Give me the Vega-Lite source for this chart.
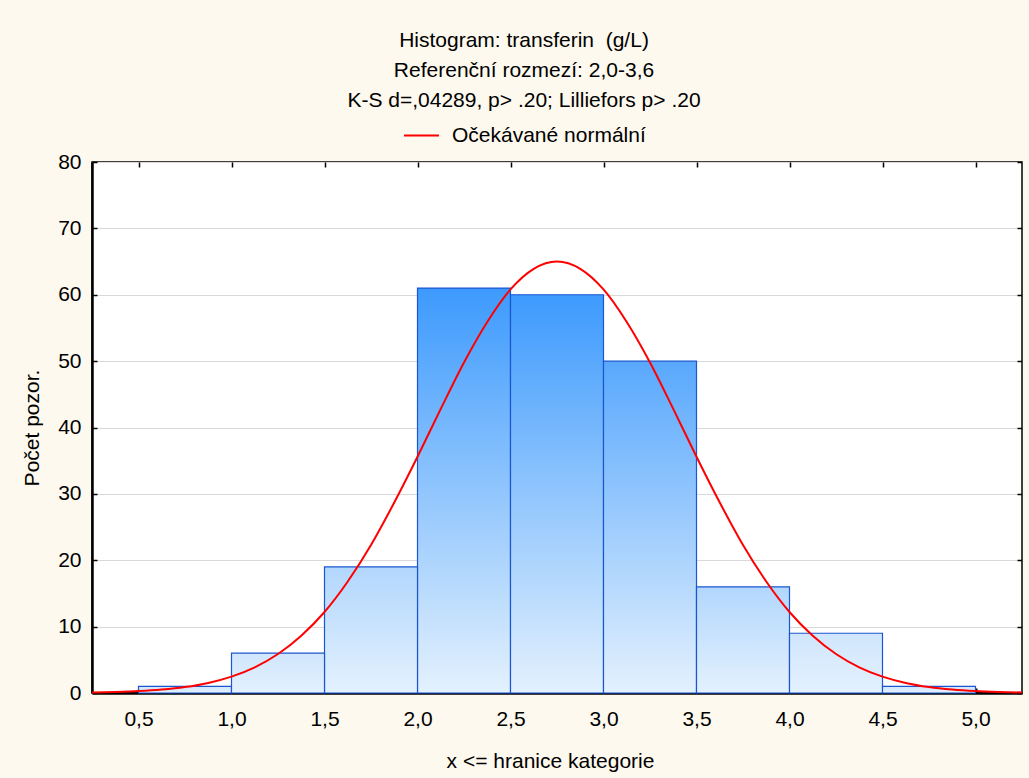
{
  "$schema": "https://vega.github.io/schema/vega-lite/v6.json",
  "width": 930,
  "height": 531,
  "autosize": {"type": "none"},
  "padding": {"left": 92, "top": 162, "right": 7, "bottom": 85},
  "background": "#fdf9ee",
  "config": {
    "font": "Liberation Sans",
    "view": {"fill": "white", "stroke": "black", "strokeWidth": 1.5},
    "axis": {"labelFont": "Liberation Sans", "titleFont": "Liberation Sans", "labelColor": "black", "titleColor": "black", "labelFontSize": 21, "titleFontSize": 21, "titleFontWeight": "normal"}
  },
  "title": {
    "text": ["Histogram: transferin \u00a0(g/L)", "Referenční rozmezí: 2,0-3,6", "K-S d=,04289, p> .20; Lilliefors p> .20"],
    "font": "Liberation Sans",
    "fontSize": 21,
    "fontWeight": "normal",
    "color": "black",
    "lineHeight": 30,
    "anchor": "middle",
    "frame": "group",
    "dx": -33,
    "offset": 6
  },
  "datasets": {
    "bins": [
      {"bin_start": 0.5, "bin_end": 1.0, "count": 1},
      {"bin_start": 1.0, "bin_end": 1.5, "count": 6},
      {"bin_start": 1.5, "bin_end": 2.0, "count": 19},
      {"bin_start": 2.0, "bin_end": 2.5, "count": 61},
      {"bin_start": 2.5, "bin_end": 3.0, "count": 60},
      {"bin_start": 3.0, "bin_end": 3.5, "count": 50},
      {"bin_start": 3.5, "bin_end": 4.0, "count": 16},
      {"bin_start": 4.0, "bin_end": 4.5, "count": 9},
      {"bin_start": 4.5, "bin_end": 5.0, "count": 1}
    ],
    "curve": [
      {"x": 0.25, "y": 0.08, "series": "Očekávané normální"},
      {"x": 0.375, "y": 0.16, "series": "Očekávané normální"},
      {"x": 0.5, "y": 0.29, "series": "Očekávané normální"},
      {"x": 0.625, "y": 0.52, "series": "Očekávané normální"},
      {"x": 0.75, "y": 0.9, "series": "Očekávané normální"},
      {"x": 0.875, "y": 1.52, "series": "Očekávané normální"},
      {"x": 1.0, "y": 2.47, "series": "Očekávané normální"},
      {"x": 1.125, "y": 3.87, "series": "Očekávané normální"},
      {"x": 1.25, "y": 5.87, "series": "Očekávané normální"},
      {"x": 1.375, "y": 8.62, "series": "Očekávané normální"},
      {"x": 1.5, "y": 12.2, "series": "Očekávané normální"},
      {"x": 1.625, "y": 16.8, "series": "Očekávané normální"},
      {"x": 1.75, "y": 22.3, "series": "Očekávané normální"},
      {"x": 1.875, "y": 28.7, "series": "Očekávané normální"},
      {"x": 2.0, "y": 35.6, "series": "Očekávané normální"},
      {"x": 2.125, "y": 42.8, "series": "Očekávané normální"},
      {"x": 2.25, "y": 49.8, "series": "Očekávané normální"},
      {"x": 2.375, "y": 55.9, "series": "Očekávané normální"},
      {"x": 2.5, "y": 60.8, "series": "Očekávané normální"},
      {"x": 2.625, "y": 63.9, "series": "Očekávané normální"},
      {"x": 2.75, "y": 65.0, "series": "Očekávané normální"},
      {"x": 2.875, "y": 63.9, "series": "Očekávané normální"},
      {"x": 3.0, "y": 60.8, "series": "Očekávané normální"},
      {"x": 3.125, "y": 55.9, "series": "Očekávané normální"},
      {"x": 3.25, "y": 49.8, "series": "Očekávané normální"},
      {"x": 3.375, "y": 42.8, "series": "Očekávané normální"},
      {"x": 3.5, "y": 35.6, "series": "Očekávané normální"},
      {"x": 3.625, "y": 28.7, "series": "Očekávané normální"},
      {"x": 3.75, "y": 22.3, "series": "Očekávané normální"},
      {"x": 3.875, "y": 16.8, "series": "Očekávané normální"},
      {"x": 4.0, "y": 12.2, "series": "Očekávané normální"},
      {"x": 4.125, "y": 8.62, "series": "Očekávané normální"},
      {"x": 4.25, "y": 5.87, "series": "Očekávané normální"},
      {"x": 4.375, "y": 3.87, "series": "Očekávané normální"},
      {"x": 4.5, "y": 2.47, "series": "Očekávané normální"},
      {"x": 4.625, "y": 1.52, "series": "Očekávané normální"},
      {"x": 4.75, "y": 0.9, "series": "Očekávané normální"},
      {"x": 4.875, "y": 0.52, "series": "Očekávané normální"},
      {"x": 5.0, "y": 0.29, "series": "Očekávané normální"},
      {"x": 5.125, "y": 0.16, "series": "Očekávané normální"},
      {"x": 5.25, "y": 0.08, "series": "Očekávané normální"}
    ]
  },
  "resolve": {"axis": {"x": "independent", "y": "independent"}},
  "layer": [
    {
      "data": {"name": "bins"},
      "transform": [{"filter": "datum.count >= 55"}],
      "mark": {"type": "rect", "stroke": "#1a56d0", "strokeWidth": 1.2,
        "fill": {"gradient": "linear", "x1": 0, "y1": 1, "x2": 0, "y2": 0, "stops": [{"offset": 0, "color": "#e4f1fd"}, {"offset": 1, "color": "#3d9afd"}]}},
      "encoding": {
        "x": {"field": "bin_start", "type": "quantitative",
          "scale": {"domain": [0.25, 5.25], "nice": false, "zero": false},
          "axis": {"orient": "bottom", "values": [0.5, 1, 1.5, 2, 2.5, 3, 3.5, 4, 4.5, 5],
            "labelExpr": "replace(format(datum.value, '.1f'), '.', ',')",
            "grid": false, "domainColor": "black", "domainWidth": 2.5, "tickColor": "black", "tickWidth": 2, "tickSize": -5,
            "labelPadding": 20, "labelFlush": false,
            "title": "x <= hranice kategorie", "titleX": 458, "titleY": 68, "titleAlign": "center", "titleBaseline": "middle"}},
        "x2": {"field": "bin_end"},
        "y": {"field": "count", "type": "quantitative",
          "scale": {"domain": [0, 80], "nice": false},
          "axis": {"orient": "left", "values": [0, 10, 20, 30, 40, 50, 60, 70, 80],
            "grid": true, "gridColor": "#d9d9d9", "gridWidth": 1,
            "domainColor": "black", "domainWidth": 2.5, "tickColor": "black", "tickWidth": 1.5, "tickSize": -5,
            "labelPadding": 16, "labelFlush": false,
            "title": "Počet pozor.", "titleAngle": -90, "titleX": -60, "titleY": 265.5, "titleAlign": "center", "titleBaseline": "middle"}},
        "y2": {"datum": 0}
      }
    },
    {
      "data": {"name": "bins"},
      "transform": [{"filter": "datum.count >= 40 && datum.count < 55"}],
      "mark": {"type": "rect", "stroke": "#1a56d0", "strokeWidth": 1.2,
        "fill": {"gradient": "linear", "x1": 0, "y1": 1, "x2": 0, "y2": 0, "stops": [{"offset": 0, "color": "#e4f1fd"}, {"offset": 1, "color": "#59a8fd"}]}},
      "encoding": {
        "x": {"field": "bin_start", "type": "quantitative", "axis": null},
        "x2": {"field": "bin_end"},
        "y": {"field": "count", "type": "quantitative", "axis": null},
        "y2": {"datum": 0}
      }
    },
    {
      "data": {"name": "bins"},
      "transform": [{"filter": "datum.count >= 12 && datum.count < 40"}],
      "mark": {"type": "rect", "stroke": "#1a56d0", "strokeWidth": 1.2,
        "fill": {"gradient": "linear", "x1": 0, "y1": 1, "x2": 0, "y2": 0, "stops": [{"offset": 0, "color": "#e4f1fd"}, {"offset": 1, "color": "#b2d7fd"}]}},
      "encoding": {
        "x": {"field": "bin_start", "type": "quantitative", "axis": null},
        "x2": {"field": "bin_end"},
        "y": {"field": "count", "type": "quantitative", "axis": null},
        "y2": {"datum": 0}
      }
    },
    {
      "data": {"name": "bins"},
      "transform": [{"filter": "datum.count < 12"}],
      "mark": {"type": "rect", "stroke": "#1a56d0", "strokeWidth": 1.2,
        "fill": {"gradient": "linear", "x1": 0, "y1": 1, "x2": 0, "y2": 0, "stops": [{"offset": 0, "color": "#e4f1fd"}, {"offset": 1, "color": "#d0e6fd"}]}},
      "encoding": {
        "x": {"field": "bin_start", "type": "quantitative", "axis": null},
        "x2": {"field": "bin_end"},
        "y": {"field": "count", "type": "quantitative", "axis": null},
        "y2": {"datum": 0}
      }
    },
    {
      "data": {"name": "curve"},
      "mark": {"type": "line", "strokeWidth": 2, "interpolate": "monotone"},
      "encoding": {
        "x": {"field": "x", "type": "quantitative",
          "axis": {"orient": "top", "values": [0.5, 1, 1.5, 2, 2.5, 3, 3.5, 4, 4.5, 5], "labels": false, "domain": false, "grid": false, "tickColor": "black", "tickWidth": 1.5, "tickSize": -5, "title": null}},
        "y": {"field": "y", "type": "quantitative",
          "axis": {"orient": "right", "values": [0, 10, 20, 30, 40, 50, 60, 70, 80], "labels": false, "domain": false, "grid": false, "tickColor": "black", "tickWidth": 1.5, "tickSize": -5, "title": null}},
        "color": {"field": "series", "type": "nominal",
          "scale": {"domain": ["Očekávané normální"], "range": ["#ff0000"]},
          "legend": {"orient": "none", "legendX": 311, "legendY": -45, "title": null, "padding": 0,
            "symbolType": "stroke", "symbolSize": 1225, "symbolStrokeWidth": 2, "symbolStrokeColor": "#ff0000",
            "labelFont": "Liberation Sans", "labelFontSize": 21, "labelColor": "black", "labelOffset": 12, "labelLimit": 0}}
      }
    }
  ]
}
